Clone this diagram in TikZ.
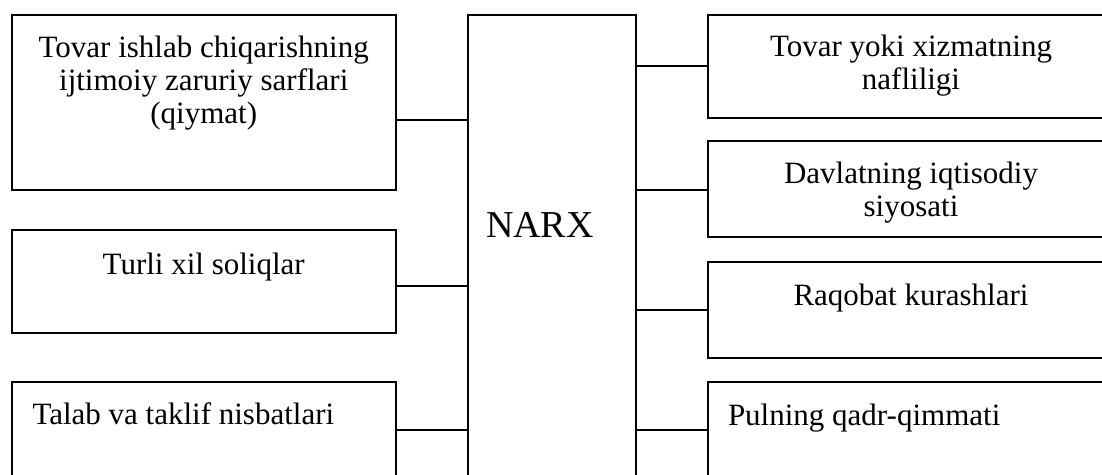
\documentclass[tikz,border=0pt]{standalone}
\usepackage{fontspec}
\setmainfont{Liberation Serif}
\usetikzlibrary{calc}
\tikzset{
  factorbox/.style={
    draw, line width=1pt, inner sep=0pt, anchor=north west,
    font=\fontsize{15.5}{16.5}\selectfont
  },
  pricebox/.style={factorbox, font=\fontsize{19}{22}\selectfont},
  linkline/.style={line width=1pt},
}
% height, width, first baseline, alignment, text
\newcommand{\factortext}[5]{\parbox[t][#1][t]{#2}{#4\rule{0pt}{#3}#5}}

\begin{document}
\begin{tikzpicture}[x=0.5pt, y=-0.5pt]
  \useasboundingbox (0,0) rectangle (1102,475);
  \clip (0,0) rectangle (1102,475);

  % Left factors
  \node[factorbox] (tovar) at (10.5,14) {\factortext{87.5pt}{192.25pt}{21.5pt}{\centering}{Tovar ishlab chiqarishning\\ijtimoiy zaruriy sarflari\\(qiymat)}};
  \node[factorbox] (soliq) at (10.5,229.5) {\factortext{51.5pt}{192.25pt}{22pt}{\centering}{Turli xil soliqlar}};
  \node[factorbox] (talab) at (10.5,381) {\factortext{51.5pt}{192.25pt}{21pt}{\raggedright\hspace*{10.5pt}}{Talab va taklif nisbatlari}};

  % Price
  \node[pricebox] (narx) at (467,14) {\factortext{238pt}{84pt}{111.5pt}{\raggedright\hspace*{9pt}}{NARX}};

  % Right factors
  \node[factorbox] (naflilik) at (707,14) {\factortext{51.5pt}{203pt}{21pt}{\centering}{Tovar yoki xizmatning\\nafliligi}};
  \node[factorbox] (siyosat) at (707,140) {\factortext{48pt}{203pt}{21.5pt}{\centering}{Davlatning iqtisodiy\\siyosati}};
  \node[factorbox] (raqobat) at (707,261) {\factortext{48pt}{203pt}{22pt}{\centering}{Raqobat kurashlari}};
  \node[factorbox] (pul) at (707,381) {\factortext{51.5pt}{203pt}{21.5pt}{\raggedright\hspace*{10pt}}{Pulning qadr-qimmati}};

  % Links
  \foreach \src/\pos in {tovar/0.6, soliq/0.54, talab/0.466} {
    \coordinate (p\src) at ($(\src.north east)!\pos!(\src.south east)$);
    \draw[linkline] (p\src) -- (p\src -| narx.west);
  }
  \foreach \dst/\pos in {naflilik/0.5, siyosat/0.51, raqobat/0.5, pul/0.466} {
    \coordinate (p\dst) at ($(\dst.north west)!\pos!(\dst.south west)$);
    \draw[linkline] (narx.east |- p\dst) -- (p\dst);
  }
\end{tikzpicture}
\end{document}
